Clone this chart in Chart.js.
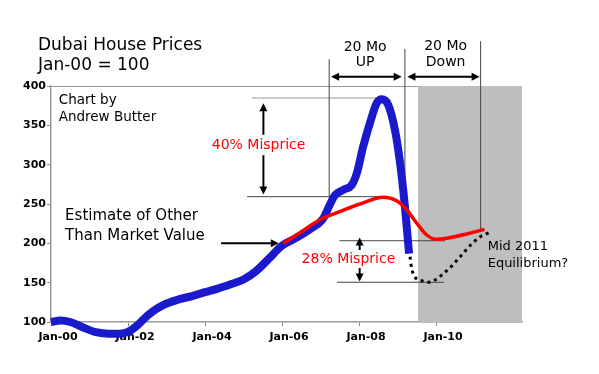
<html>
<head>
    <title>Dubai House Prices</title>
    <script src="https://cdn.jsdelivr.net/npm/chart.js"></script>
    <style>
        body { margin: 0; background: #fff; }
    </style>
</head>
<body>
<canvas id="graph" width="599" height="374"></canvas>
<script>
    // months counted from Jan-00, index Jan-00 = 100
    const blueMonths = [0, 3, 6, 10, 14, 18, 21, 24, 27, 30, 33, 36, 40, 44, 48, 52, 56, 60, 64, 68, 72, 76, 80.7, 84.9, 87, 88.5, 91.1, 93.7, 95.3, 97.3, 100, 101.5, 103.1, 105.1, 107.2, 108.8, 110.3, 111.6];
    const blueValues = [100, 102, 100, 93, 87, 85, 85, 87.5, 96, 108, 117, 123.5, 129, 133, 138, 142.5, 148, 154, 165, 181, 197, 206, 218, 232, 250, 261, 268, 274, 289, 323, 361, 378, 383, 376, 344, 302, 247, 187];
    const redMonths = [72.4, 77.6, 83.8, 90.1, 96.3, 103.6, 107.7, 110.9, 114, 117.1, 120.2, 123.3, 129.6, 135.1];
    const redValues = [200, 213.5, 230, 240.5, 250, 258.5, 254, 242.4, 225.5, 210.6, 205.1, 206.4, 211.9, 217.8];
    const dotMonths = [111.9, 112.4, 113.5, 115.5, 117.6, 119.7, 121.8, 124.9, 128, 130.8, 133.8, 136.5];
    const dotValues = [183, 168.3, 156.8, 152.5, 150.5, 153.4, 159.7, 171.2, 185.2, 197.9, 208.4, 213.5];
    const xTickMonths = [0, 24, 48, 72, 96, 120];
    const xTickLabels = ['Jan-00', 'Jan-02', 'Jan-04', 'Jan-06', 'Jan-08', 'Jan-10'];
    const yTicks = [100, 150, 200, 250, 300, 350, 400];
    const shadeStart = 114.4;

    const FONT = "'Comic Sans MS', 'DejaVu Sans', sans-serif";

    function toPoints(xs, ys) {
        return xs.map((x, i) => ({x: x, y: ys[i]}));
    }

    function head(ctx, x, y, dir) {
        const l = 8, w = 4;
        ctx.beginPath();
        ctx.moveTo(x, y);
        if (dir === 'up') { ctx.lineTo(x - w, y + l); ctx.lineTo(x + w, y + l); }
        if (dir === 'down') { ctx.lineTo(x - w, y - l); ctx.lineTo(x + w, y - l); }
        if (dir === 'left') { ctx.lineTo(x + l, y - w); ctx.lineTo(x + l, y + w); }
        if (dir === 'right') { ctx.lineTo(x - l, y - w); ctx.lineTo(x - l, y + w); }
        ctx.closePath();
        ctx.fill();
    }

    function seg(ctx, x1, y1, x2, y2) {
        ctx.beginPath();
        ctx.moveTo(x1, y1);
        ctx.lineTo(x2, y2);
        ctx.stroke();
    }

    const notes = {
        id: 'notes',
        beforeDatasetsDraw(chart) {
            const ctx = chart.ctx, a = chart.chartArea;
            const X = m => chart.scales.x.getPixelForValue(m);
            const Y = v => chart.scales.y.getPixelForValue(v);
            ctx.save();
            // shaded "down" period
            ctx.fillStyle = '#bebebe';
            ctx.fillRect(X(shadeStart), a.top, a.right - X(shadeStart), a.bottom - a.top + 1);

            // thin guide lines
            ctx.lineWidth = 1;
            ctx.strokeStyle = '#999';
            seg(ctx, X(62.6), Y(384.7), X(104.7), Y(384.7));
            ctx.strokeStyle = '#444';
            seg(ctx, X(61.1), Y(259.3), X(103), Y(259.3));
            seg(ctx, X(89.9), Y(203.3), X(122.8), Y(203.3));
            seg(ctx, X(89.1), Y(150.5), X(122.5), Y(150.5));
            seg(ctx, X(86.7), Y(434), X(86.7), Y(260));
            seg(ctx, X(110.3), Y(447), X(110.3), Y(250));
            seg(ctx, X(133.9), Y(457), X(133.9), Y(218));

            // arrows
            ctx.strokeStyle = '#000';
            ctx.fillStyle = '#000';
            ctx.lineWidth = 2;
            // 40% misprice
            seg(ctx, X(66.2), Y(378) + 6, X(66.2), Y(338));
            head(ctx, X(66.2), Y(378), 'up');
            seg(ctx, X(66.2), Y(312), X(66.2), Y(262) - 6);
            head(ctx, X(66.2), Y(262), 'down');
            // 28% misprice
            seg(ctx, X(96.2), Y(207.5) + 6, X(96.2), Y(191.5));
            head(ctx, X(96.2), Y(207.5), 'up');
            seg(ctx, X(96.2), Y(168.6), X(96.2), Y(151.5) - 6);
            head(ctx, X(96.2), Y(151.5), 'down');
            // 20 Mo up / down
            const ya = Y(411.8);
            seg(ctx, X(87.3) + 6, ya, X(109.3) - 6, ya);
            head(ctx, X(87.3), ya, 'left');
            head(ctx, X(109.3), ya, 'right');
            seg(ctx, X(111.1) + 6, ya, X(133.6) - 6, ya);
            head(ctx, X(111.1), ya, 'left');
            head(ctx, X(133.6), ya, 'right');
            // estimate arrow
            seg(ctx, X(53), Y(200), X(71) - 6, Y(200));
            head(ctx, X(71), Y(200), 'right');

            // texts
            ctx.textBaseline = 'middle';
            ctx.fillStyle = '#000';
            ctx.textAlign = 'left';
            ctx.font = '13.5px ' + FONT;
            ctx.fillText('Chart by', X(2.4), Y(381));
            ctx.fillText('Andrew Butter', X(2.4), Y(360));
            ctx.font = '15px ' + FONT;
            ctx.fillText('Estimate of Other', X(4.4), Y(234));
            ctx.fillText('Than Market Value', X(4.4), Y(209.3));
            ctx.font = '13px ' + FONT;
            ctx.fillText('Mid 2011', X(136.1), Y(195.7));
            ctx.fillText('Equilibrium?', X(136.1), Y(174.6));
            ctx.font = '14px ' + FONT;
            ctx.textAlign = 'center';
            ctx.fillText('20 Mo', X(97.9), Y(449.3));
            ctx.fillText('UP', X(97.9), Y(430.5));
            ctx.fillText('20 Mo', X(123), Y(451));
            ctx.fillText('Down', X(123), Y(430.5));
            ctx.fillStyle = '#ff0000';
            ctx.fillText('40% Misprice', X(64.7), Y(325));
            ctx.fillText('28% Misprice', X(92.7), Y(179.7));
            ctx.restore();
        },
        afterDraw(chart) {
            const ctx = chart.ctx;
            ctx.save();
            ctx.fillStyle = '#000';
            ctx.textBaseline = 'middle';
            ctx.textAlign = 'left';
            ctx.font = '17px ' + FONT;
            ctx.fillText('Dubai House Prices', 38, 46);
            ctx.fillText('Jan-00 = 100', 38, 66);
            ctx.restore();
        }
    };

    const config = {
        type: 'line',
        data: {
            datasets: [{
                label: 'Estimate of other than market value',
                data: toPoints(redMonths, redValues),
                borderColor: '#ff0000',
                borderWidth: 3.5,
                pointRadius: 0,
                cubicInterpolationMode: 'monotone',
                clip: false,
                order: 0
            }, {
                label: 'Projection',
                data: toPoints(dotMonths, dotValues),
                borderColor: '#000',
                borderWidth: 3,
                borderDash: [3, 4],
                pointRadius: 0,
                cubicInterpolationMode: 'monotone',
                clip: false,
                order: 1
            }, {
                label: 'Dubai house prices',
                data: toPoints(blueMonths, blueValues),
                borderColor: '#1a1acc',
                borderWidth: 8,
                borderCapStyle: 'butt',
                pointRadius: 0,
                cubicInterpolationMode: 'monotone',
                clip: false,
                order: 2
            }]
        },
        options: {
            responsive: false,
            animation: false,
            layout: {padding: {left: 0, top: 86, right: 77, bottom: 0}},
            plugins: {legend: {display: false}, tooltip: {enabled: false}},
            scales: {
                x: {
                    type: 'linear',
                    min: 0,
                    max: 146.8,
                    afterBuildTicks: s => { s.ticks = xTickMonths.map(v => ({value: v})); },
                    afterFit: s => { s.height = 52; },
                    grid: {drawOnChartArea: false, color: '#888', tickLength: 4},
                    border: {color: '#999', width: 1.5},
                    ticks: {
                        callback: v => xTickLabels[xTickMonths.indexOf(v)],
                        labelOffset: 7,
                        padding: 5,
                        maxRotation: 0,
                        autoSkip: false,
                        color: '#000',
                        font: {family: FONT, size: 11, weight: 'bold'}
                    }
                },
                y: {
                    min: 100,
                    max: 400,
                    afterBuildTicks: s => { s.ticks = yTicks.map(v => ({value: v})); },
                    afterFit: s => { s.width = 51; },
                    grid: {
                        color: c => (c.tick && c.tick.value === 400) ? '#999' : 'rgba(0,0,0,0)',
                        tickColor: '#888',
                        tickLength: 4
                    },
                    border: {color: '#999', width: 1.5},
                    ticks: {
                        padding: 1,
                        color: '#000',
                        font: {family: FONT, size: 11, weight: 'bold'}
                    }
                }
            }
        },
        plugins: [notes]
    };

    new Chart(document.getElementById('graph'), config);
</script>
</body>
</html>
